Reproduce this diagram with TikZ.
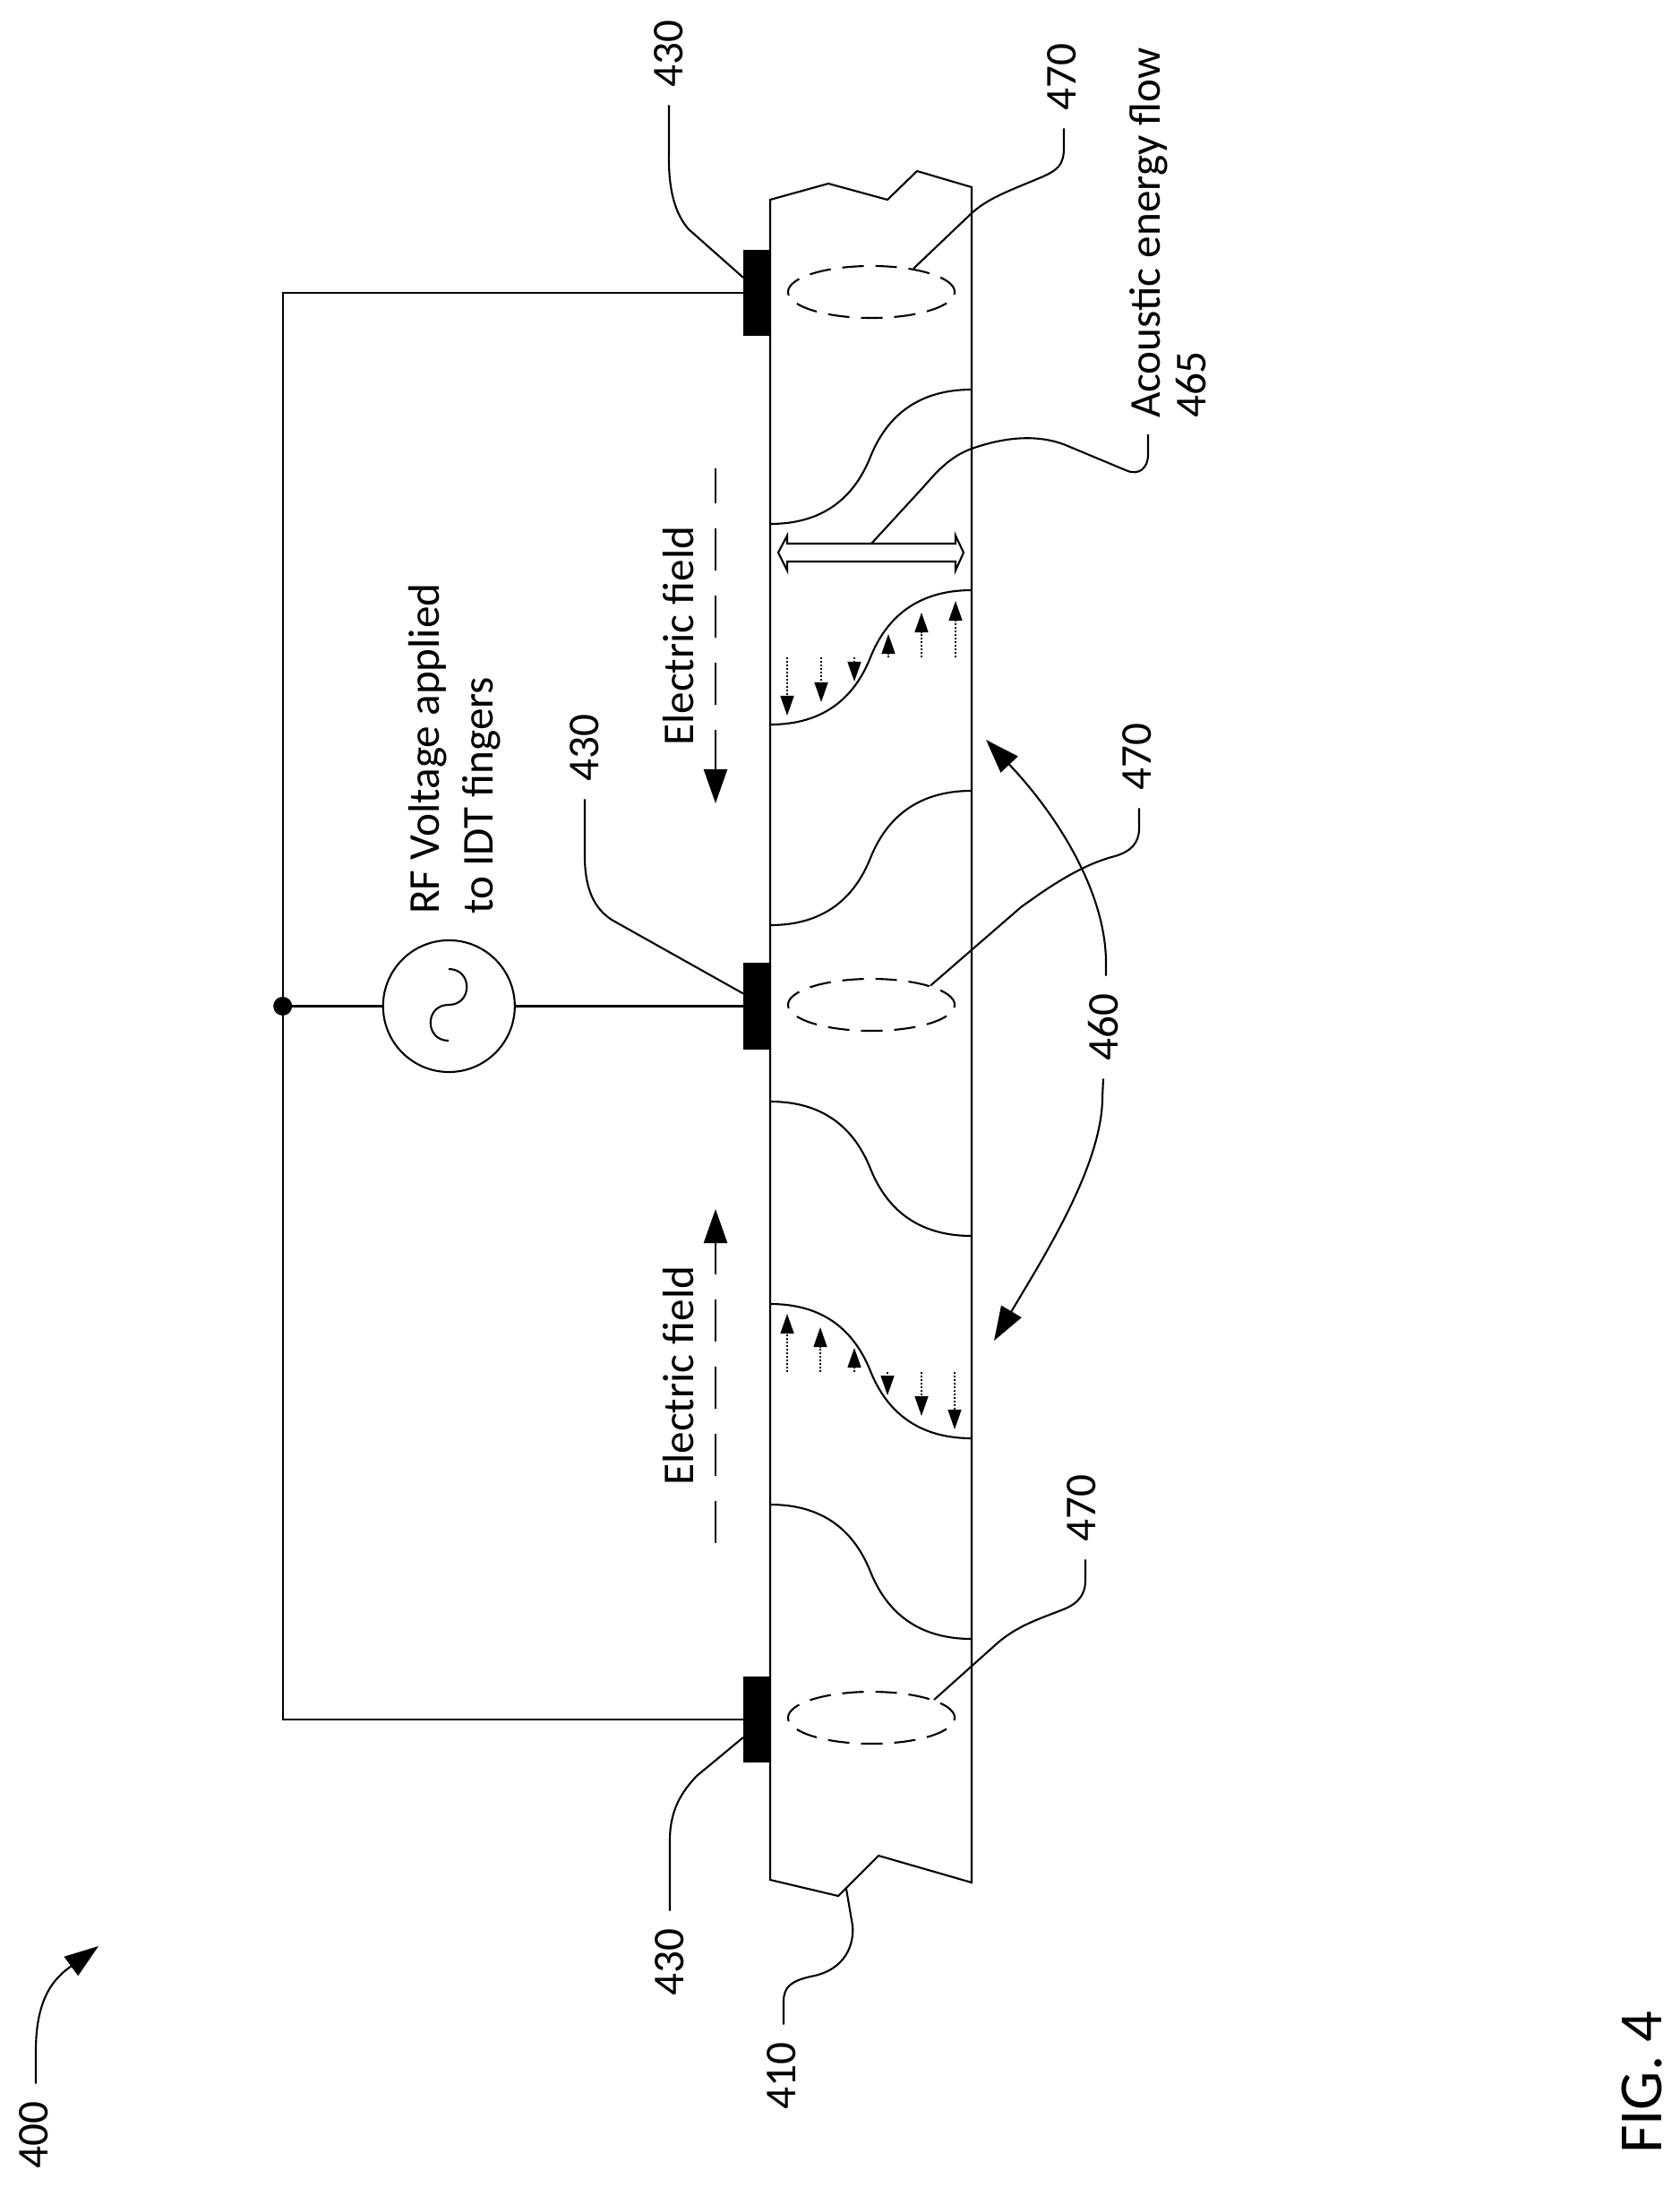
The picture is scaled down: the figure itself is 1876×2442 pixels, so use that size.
\documentclass[tikz,border=0pt]{standalone}
\usepackage{fontspec}
\setmainfont{Carlito}
\usetikzlibrary{positioning,arrows.meta,shapes.geometric}

\tikzset{
  thinline/.style={line width=0.6pt},
  finger/.style={draw=none, fill=black, minimum width=0.3cm, minimum height=0.96cm, inner sep=0pt, outer sep=0pt},
  hotspot/.style={draw, thinline, ellipse, dash pattern=on 0.24cm off 0.13cm, minimum width=1.86cm, minimum height=0.58cm, inner sep=0pt},
  reflabel/.style={rotate=90, inner sep=5.4pt, font=\fontsize{14}{17}\selectfont},
  textlabel/.style={rotate=90, inner sep=0pt, align=left, font=\fontsize{14}{17}\selectfont},
  bighead/.style={-{Triangle[length=0.38cm,width=0.26cm]}},
  fieldline/.style={bighead, line width=0.75pt, dash pattern=on 0.47cm off 0.28cm},
  strain/.style={-{Triangle[length=0.22cm,width=0.15cm]}, line width=0.4pt, dash pattern=on 0.02cm off 0.02cm},
}

\begin{document}
\begin{tikzpicture}[x=0.01cm, y=-0.01cm, thinline]
  \def\xleft{860}
  \def\xmid{972}
  \def\xright{1085}
  % one bend of the wave: start height, half of its rise
  \def\wave#1#2{\draw (\xleft,#1) .. controls +(60,0) and +(-18,{-0.6*#2}) .. (\xmid,{#1+#2})
    .. controls +(18,{0.6*#2}) and +(-60,0) .. (\xright,{#1+2*#2});}

  \useasboundingbox (0,0) rectangle (1876,2442);

  % Substrate
  \draw (\xleft,223) -- (925,205) -- (991,223) -- (1024,191) -- (\xright,209)
    -- (\xright,2102) -- (981,2072) -- (936,2117) -- (\xleft,2099) -- cycle;
  % Waves
  \foreach \ystart in {585,809,1033} {\wave{\ystart}{-75}}
  \foreach \ystart in {1230,1456,1680} {\wave{\ystart}{75}}

  % Fingers
  \node [finger] (top finger) at (845,327) {};
  \node [finger, below = 7cm of top finger] (mid finger) {};
  \node [finger, below = 7cm of mid finger] (bottom finger) {};

  % Source
  \node [draw, thinline, circle, minimum size=1.47cm, inner sep=0pt, outer sep=0pt, left = 2.55cm of mid finger] (rf source) {};
  \node [circle, fill=black, minimum size=0.21cm, inner sep=0pt, outer sep=0pt, left = 1.015cm of rf source] (junction) {};
  \draw (top finger) -| (junction) |- (bottom finger);
  \draw (junction) -- (rf source) -- (mid finger);
  \draw (501,1082) .. controls +(27,0) and +(27,0) .. (501,1122) .. controls +(-27,0) and +(-27,0) .. (501,1162);
  \node [textlabel, anchor=west] (rf text) at (508,1022) {RF Voltage applied\\to IDT fingers};

  % Electric field
  \draw [fieldline, dash phase=0.08cm] (799,523) -- (799,897);
  \draw [fieldline] (799,1723) -- (799,1350);
  \node [textlabel] (field top) at (758,710) {Electric field};
  \node [textlabel] (field bottom) at (758,1536) {Electric field};

  % Strain arrows
  \foreach \xpos/\ytip in {879/799,917/784,954/761,992/708,1029/684,1067/671} {
    \draw [strain] (\xpos,734) -- (\xpos,\ytip);
  }
  \foreach \xpos/\ytip in {879/1467,916/1482,954/1505,991/1558,1029/1581,1066/1596} {
    \draw [strain] (\xpos,1532) -- (\xpos,\ytip);
  }

  % Acoustic energy flow
  \draw [fill=white] (869,617) -- (879,598) -- (879,607) -- (1067,607) -- (1067,598) -- (1076,617)
    -- (1067,637) -- (1067,627) -- (879,627) -- (879,637) -- cycle;
  \coordinate (flow top) at (973,607);
  \coordinate (flow end) at (1282,485);
  \node [textlabel, anchor=west] (flow text) at (1304,468) {Acoustic energy flow\\[-2.5pt]465};
  \draw (flow end) -- (1282,508) .. controls (1282,522) and (1272,532) .. (1257,525) -- (1190,497)
    .. controls (1165,487) and (1130,485) .. (1085,501) .. controls (1060,510) and (1045,528) .. (1030,545) -- (flow top);

  % Hot spots
  \node [hotspot] (spot top) at (973,326) {};
  \node [hotspot] (spot mid) at (973,1122) {};
  \node [hotspot] (spot bottom) at (973,1918) {};

  % 470
  \node [reflabel] (ref 470 top) at (1186,86) {470};
  \draw ([xshift=0.02cm]ref 470 top.west) -- (1188,165) .. controls (1188,185) and (1180,190) .. (1165,197)
    .. controls (1130,212) and (1105,220) .. (1085,238) -- (spot top.29);
  \node [reflabel] (ref 470 mid) at (1270,845) {470};
  \draw ([xshift=0.02cm]ref 470 mid.west) -- (1272,925) .. controls (1272,942) and (1262,951) .. (1245,956)
    .. controls (1205,966) and (1165,995) .. (1140,1013) -- (spot mid.18);
  \node [reflabel] (ref 470 bottom) at (1208,1684) {470};
  \draw ([xshift=0.04cm]ref 470 bottom.west) -- (1212,1765) .. controls (1212,1780) and (1204,1790) .. (1190,1796)
    .. controls (1160,1808) and (1135,1815) .. (1110,1838) -- (spot bottom.16);

  % 430
  \node [reflabel] (ref 430 top) at (747,60) {430};
  \draw (ref 430 top.west) -- (747,170) .. controls (746,215) and (755,240) .. (769,256) -- ([yshift=0.17cm]top finger.west);
  \node [reflabel] (ref 430 mid) at (653,835) {430};
  \draw (ref 430 mid.west) -- (653,950) .. controls (652,995) and (665,1015) .. (683,1027) -- ([yshift=0.14cm]mid finger.west);
  \node [reflabel] (ref 430 bottom) at (748,2191) {430};
  \draw (ref 430 bottom.east) -- (748,2055) .. controls (748,2020) and (762,2000) .. (778,1983) -- ([yshift=-0.2cm]bottom finger.west);

  % 460
  \node [reflabel] (ref 460) at (1232,1147) {460};
  \draw [bighead] ([xshift=0.03cm]ref 460.east) -- (1235,1075) .. controls (1235,1000) and (1185,915) .. (1101,826);
  \draw [bighead] (ref 460.west) -- (1231,1225) .. controls (1231,1300) and (1167,1401) .. (1110,1497);

  % 410
  \coordinate (notch) at (945,2109);
  \node [reflabel] (ref 410) at (873,2318) {410};
  \draw ([xshift=0.02cm]ref 410.east) -- (875,2235) .. controls (875,2218) and (884,2212) .. (905,2207)
    .. controls (945,2200) and (954,2170) .. (952,2150) -- (notch);

  % 400
  \coordinate (assembly tip) at (110,2173);
  \node [reflabel] (ref 400) at (38,2384) {400};
  \draw [bighead] ([xshift=0.02cm]ref 400.east) -- (40,2290) .. controls (40,2225) and (65,2206) .. (assembly tip);

  % Figure name
  \node [rotate=90, inner sep=0pt, font=\fontsize{19.5}{23}\selectfont] (fig name) at (1833,2325) {FIG. 4};
\end{tikzpicture}
\end{document}
